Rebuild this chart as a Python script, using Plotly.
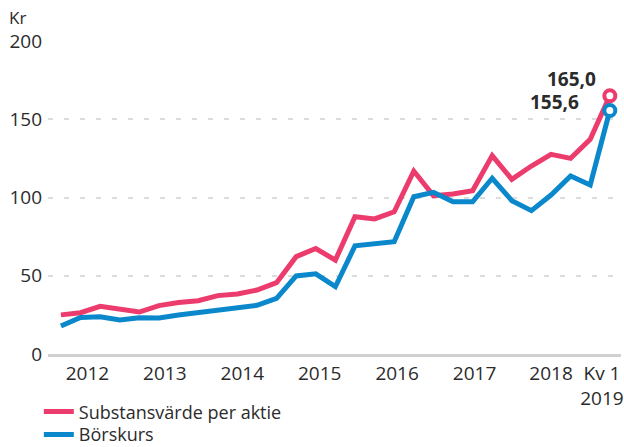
import plotly.graph_objects as go

# Quarterly data, Q1 2012 .. Q1 2019
quarters = [f"{y} Q{q}" for y in range(2012, 2019) for q in range(1, 5)] + ["2019 Q1"]
substansvarde = [25.0, 26.4, 30.5, 28.6, 26.8, 30.9, 32.9, 34.0, 37.3, 38.3, 40.9, 45.6,
                 62.2, 67.4, 60.0, 87.7, 86.3, 90.9, 116.9, 101.2, 102.2, 104.3, 126.8,
                 111.6, 120.1, 127.6, 125.0, 137.2, 165.0]
borskurs = [17.9, 23.4, 23.8, 21.7, 23.2, 23.0, 24.9, 26.4, 28.1, 30.2, 31.1, 35.6,
            49.9, 51.2, 43.0, 69.1, 70.1, 71.8, 100.5, 103.3, 97.3, 97.3, 112.3,
            98.0, 91.6, 101.6, 113.7, 108.0, 155.6]
tick_labels = ["2012", "2013", "2014", "2015", "2016", "2017", "2018", "Kv 1<br>2019"]
tick_pos = [1.35, 5.3, 9.25, 13.2, 17.15, 21.1, 25.0, 27.6]
y_ticks = [0, 50, 100, 150, 200]

PINK = "#ec3b6d"
BLUE = "#0a88cb"
TXT = "#2b2b2b"
FONT = "Open Sans"

x = list(range(len(quarters)))
last = len(quarters) - 1

fig = go.Figure()
fig.add_trace(go.Scatter(
    x=x, y=substansvarde, mode="lines", name="Substansvärde per aktie", legend="legend",
    line=dict(color=PINK, width=5), text=quarters, hoverinfo="text+y"))
fig.add_trace(go.Scatter(
    x=x, y=borskurs, mode="lines", name="Börskurs", legend="legend2",
    line=dict(color=BLUE, width=5), text=quarters, hoverinfo="text+y"))
# end markers
fig.add_trace(go.Scatter(
    x=[last], y=[substansvarde[-1]], mode="markers", showlegend=False, cliponaxis=False,
    marker=dict(size=11, color="white", line=dict(color=PINK, width=4)), hoverinfo="skip"))
fig.add_trace(go.Scatter(
    x=[last], y=[borskurs[-1]], mode="markers", showlegend=False, cliponaxis=False,
    marker=dict(size=11, color="white", line=dict(color=BLUE, width=4)), hoverinfo="skip"))

fig.add_annotation(x=last, y=substansvarde[-1], text="<b>165,0</b>", showarrow=False,
                   xanchor="right", yanchor="middle", xshift=-12, yshift=17,
                   font=dict(family=FONT, size=19, color=TXT))
fig.add_annotation(x=last, y=borskurs[-1], text="<b>155,6</b>", showarrow=False,
                   xanchor="right", yanchor="middle", xshift=-29, yshift=8,
                   font=dict(family=FONT, size=19, color=TXT))
fig.add_annotation(x=0, xref="paper", xanchor="left", xshift=-41,
                   y=1, yref="paper", yanchor="bottom", yshift=10,
                   text="Kr", showarrow=False, font=dict(family=FONT, size=17, color=TXT))

legend_common = dict(xanchor="left", yanchor="middle", x=-0.016,
                     font=dict(family=FONT, size=18, color=TXT),
                     bgcolor="rgba(0,0,0,0)")

fig.update_layout(
    width=624, height=447,
    margin=dict(l=48, r=3, t=41, b=93, autoexpand=False),
    paper_bgcolor="white", plot_bgcolor="white",
    font=dict(family=FONT, size=19, color=TXT),
    showlegend=True,
    legend=dict(y=-0.185, **legend_common),
    legend2=dict(y=-0.258, **legend_common),
    xaxis=dict(range=[-0.66, 28.57], tickmode="array", tickvals=tick_pos,
               ticktext=tick_labels, showgrid=False, zeroline=False,
               showline=True, linecolor="#d0d0d0", linewidth=3, ticks="",
               fixedrange=True),
    yaxis=dict(range=[0, 200], tickmode="array", tickvals=y_ticks,
               showgrid=True, gridcolor="#dcdcdc", griddash="5px,11px", gridwidth=1.5,
               zeroline=False, ticks="", showline=False, fixedrange=True,
               ticklabelstandoff=5),
)

fig.write_html("out.html", config={"displayModeBar": False},
               post_script="document.body.style.margin='0px';document.body.style.overflow='hidden';")
